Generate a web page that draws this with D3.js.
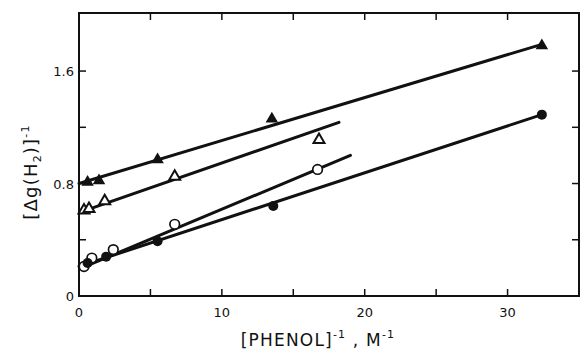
<!DOCTYPE html>
<html><head><meta charset="utf-8">
<script src="https://cdn.jsdelivr.net/npm/d3@7"></script>
<style>body{margin:0;background:#fff}svg text{font-family:"DejaVu Sans",sans-serif;fill:#111}</style>
</head><body>
<svg id="c" width="580" height="355"></svg>
<script>
// ---- data ----
const xLabelTicks = [0, 10, 20, 30];
const xMinorTicks = [5, 15, 25];
const yLabelTicks = [0, 0.8, 1.6];
const yMinorTicks = [0.4, 1.2];

const filledTriX = [0.6, 1.4, 5.5, 13.5, 32.4];
const filledTriY = [0.81, 0.82, 0.97, 1.26, 1.78];
const openTriX = [0.35, 0.7, 1.8, 6.7, 16.8];
const openTriY = [0.61, 0.62, 0.675, 0.85, 1.11];
const openCircX = [0.35, 0.9, 2.4, 6.7, 16.7];
const openCircY = [0.21, 0.27, 0.33, 0.51, 0.90];
const filledCircX = [0.6, 1.9, 5.5, 13.6, 32.4];
const filledCircY = [0.235, 0.28, 0.39, 0.64, 1.29];

// fitted lines: [x0, y0, x1, y1]
const lineFilledTri = [0, 0.80, 32.4, 1.79];
const lineOpenTri = [0.2, 0.60, 18.2, 1.235];
const lineOpenCirc = [0.2, 0.20, 19.0, 1.0];
const lineFilledCirc = [0, 0.21, 32.4, 1.29];

// ---- drawing ----
const svg = d3.select("#c");
const L = 79, R = 579, T = 13, B = 296;
const x = d3.scaleLinear().domain([0, 35]).range([L, R]);
const y = d3.scaleLinear().domain([0, 2.013]).range([B, T]);
const tickLen = 7;

const g = svg.append("g");
// frame
g.append("rect").attr("x", L).attr("y", T).attr("width", R - L).attr("height", B - T)
  .attr("fill", "none").attr("stroke", "#111").attr("stroke-width", 2);

const allX = xLabelTicks.concat(xMinorTicks);
const allY = yLabelTicks.concat(yMinorTicks);
// bottom/top ticks (inward)
g.selectAll(".xtb").data(allX).enter().append("line")
  .attr("x1", d => x(d)).attr("x2", d => x(d)).attr("y1", B).attr("y2", B - tickLen)
  .attr("stroke", "#111").attr("stroke-width", 1.5);
g.selectAll(".xtt").data(allX).enter().append("line")
  .attr("x1", d => x(d)).attr("x2", d => x(d)).attr("y1", T).attr("y2", T + tickLen)
  .attr("stroke", "#111").attr("stroke-width", 1.5);
g.selectAll(".ytl").data(allY).enter().append("line")
  .attr("x1", L).attr("x2", L + tickLen).attr("y1", d => y(d)).attr("y2", d => y(d))
  .attr("stroke", "#111").attr("stroke-width", 1.5);
g.selectAll(".ytr").data(allY).enter().append("line")
  .attr("x1", R).attr("x2", R - tickLen).attr("y1", d => y(d)).attr("y2", d => y(d))
  .attr("stroke", "#111").attr("stroke-width", 1.5);

// tick labels
g.selectAll(".xl").data(xLabelTicks).enter().append("text")
  .attr("x", d => x(d)).attr("y", 317).attr("text-anchor", "middle")
  .attr("font-size", 13).text(d => d);
g.selectAll(".yl").data(yLabelTicks).enter().append("text")
  .attr("x", 74).attr("y", d => y(d) + 5).attr("text-anchor", "end")
  .attr("font-size", 13).text(d => d === 0 ? "0" : d.toFixed(1));

// axis titles
const xt = svg.append("text").attr("x", 318).attr("y", 346).attr("text-anchor", "middle")
  .attr("font-size", 17).attr("letter-spacing", 1.2);
xt.append("tspan").text("[PHENOL]");
xt.append("tspan").attr("font-size", 11).attr("dy", -8).text("-1");
xt.append("tspan").attr("dy", 8).text("  , M");
xt.append("tspan").attr("font-size", 11).attr("dy", -8).text("-1");

const yt = svg.append("text").attr("transform", "translate(37,172) rotate(-90)")
  .attr("text-anchor", "middle").attr("font-size", 18).attr("letter-spacing", 1.2);
yt.append("tspan").text("[Δg(H");
yt.append("tspan").attr("font-size", 11).attr("dy", 4).text("2");
yt.append("tspan").attr("dy", -4).text(")]");
yt.append("tspan").attr("font-size", 11).attr("dy", -8).text("-1");

// lines
[lineFilledTri, lineOpenTri, lineOpenCirc, lineFilledCirc].forEach(l => {
  g.append("line").attr("x1", x(l[0])).attr("y1", y(l[1])).attr("x2", x(l[2])).attr("y2", y(l[3]))
    .attr("stroke", "#111").attr("stroke-width", 3).attr("stroke-linecap", "round");
});

// markers
function pts(xs, ys) { return xs.map((v, i) => [v, ys[i]]); }
g.selectAll(".ft").data(pts(filledTriX, filledTriY)).enter().append("path")
  .attr("d", d3.symbol().type(d3.symbolTriangle).size(68))
  .attr("transform", d => `translate(${x(d[0])},${y(d[1])})`)
  .attr("fill", "#111");
g.selectAll(".ot").data(pts(openTriX, openTriY)).enter().append("path")
  .attr("d", d3.symbol().type(d3.symbolTriangle).size(52))
  .attr("transform", d => `translate(${x(d[0])},${y(d[1])})`)
  .attr("fill", "#fff").attr("stroke", "#111").attr("stroke-width", 2);
g.selectAll(".oc").data(pts(openCircX, openCircY)).enter().append("circle")
  .attr("cx", d => x(d[0])).attr("cy", d => y(d[1])).attr("r", 4.8)
  .attr("fill", "#fff").attr("stroke", "#111").attr("stroke-width", 1.7);
g.selectAll(".fc").data(pts(filledCircX, filledCircY)).enter().append("circle")
  .attr("cx", d => x(d[0])).attr("cy", d => y(d[1])).attr("r", 5)
  .attr("fill", "#111");
</script>
</body></html>
